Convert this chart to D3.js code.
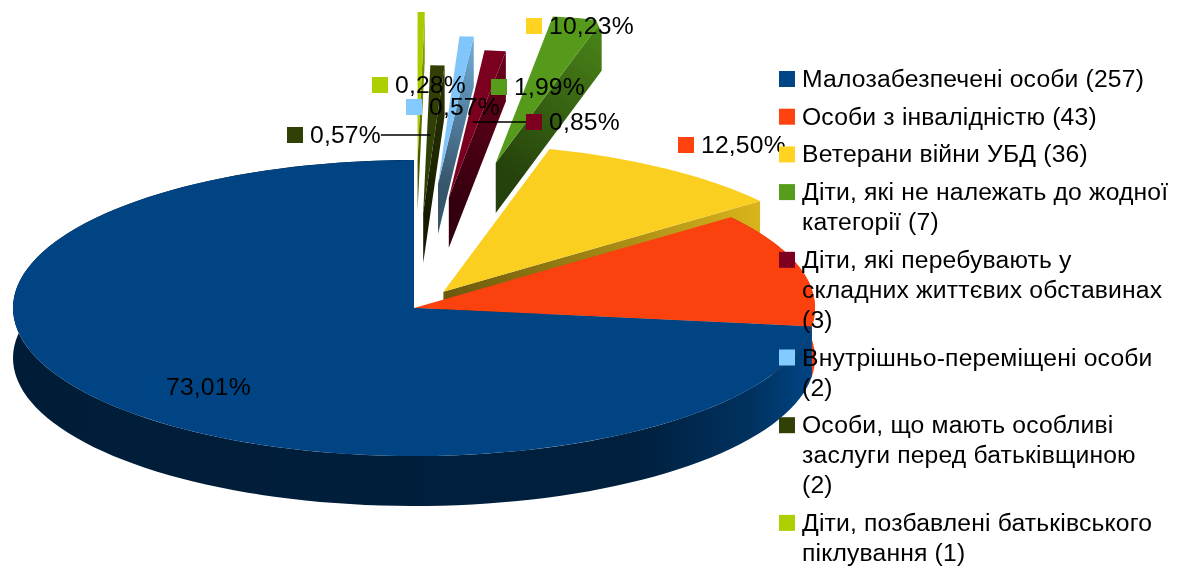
<!DOCTYPE html>
<html>
<head>
<meta charset="utf-8">
<script src="https://cdn.jsdelivr.net/npm/d3@7"></script>
<style>
  html, body { margin: 0; padding: 0; background: #fff; }
  svg { display: block; filter: blur(0.45px); }
  text { font-family: "Liberation Sans", Arial, sans-serif; font-size: 24.7px; letter-spacing: 0.17px; fill: #000; }
</style>
</head>
<body>
<svg id="chart" width="1191" height="567"></svg>
<script>
// chart values
const categories = [
  'Малозабезпечені особи (257)',
  'Особи з інвалідністю (43)',
  'Ветерани війни УБД (36)',
  'Діти, які не належать до жодної\nкатегорії (7)',
  'Діти, які перебувають у\nскладних життєвих обставинах\n(3)',
  'Внутрішньо-переміщені особи\n(2)',
  'Особи, що мають особливі\nзаслуги перед батьківщиною\n(2)',
  'Діти, позбавлені батьківського\nпіклування (1)'
];
const values = [257, 44, 36, 7, 3, 2, 2, 1];
const colors = ['#004586', '#ff420e', '#ffd320', '#579d1c', '#7e0021', '#83caff', '#314004', '#aecf00'];
// how far each slice is pulled out, as a share of the radius
const explode = [0, 0, 0.132, 1, 0.75, 0.84, 0.64, 1];
// data label anchors: swatch left, row centre
const labelX = [143, 678, 526, 491, 526, 406, 287, 372];
const labelY = [387, 145, 26, 87, 122, 107, 135, 85];
const leaderFor = [4, 6];

const cx = 414, cy = 308, rx = 401, ry = 148, depth = 50;
const svg = d3.select('#chart');
const defs = svg.append('defs');

const total = d3.sum(values);
const pct = v => (v / total * 100).toFixed(2).replace('.', ',') + '%';

const pie = d3.pie().sort(null).startAngle(0).endAngle(-2 * Math.PI);
const arc = d3.arc().innerRadius(0).outerRadius(rx);
const slices = pie(values).map((d, i) => {
  const mid = (d.startAngle + d.endAngle) / 2;
  return {
    ...d, i,
    mid,
    ox: cx + Math.sin(mid) * explode[i] * rx,
    oy: cy - Math.cos(mid) * explode[i] * ry
  };
});

const at = (s, a, dy = 0) => [s.ox + Math.sin(a) * rx, s.oy - Math.cos(a) * ry + dy];

function shade(c, k) {
  const r = d3.rgb(c);
  return d3.rgb(r.r * k, r.g * k, r.b * k).formatHex();
}

function gradient(id, x1, y1, x2, y2, stops) {
  const g = defs.append('linearGradient').attr('id', id)
    .attr('gradientUnits', 'userSpaceOnUse')
    .attr('x1', x1).attr('y1', y1).attr('x2', x2).attr('y2', y2);
  stops.forEach(s => g.append('stop').attr('offset', s[0]).attr('stop-color', s[1]));
  return `url(#${id})`;
}

const line = d3.line();
const pieG = svg.append('g');

// back to front, so the big slices end up on top of the pulled out ones
slices.slice().reverse().forEach(s => {
  const c = colors[s.i];
  const g = pieG.append('g');
  const outer = at(s, s.startAngle);

  // the slice that runs furthest to the top right has its outer corner cut off
  if (s.i === 3) {
    defs.append('clipPath').attr('id', 'corner').append('path')
      .attr('d', line([[0, 0], [outer[0] - 14, 0], [outer[0], outer[1] + 13], [outer[0], 567], [0, 567]]) + 'Z');
    g.attr('clip-path', 'url(#corner)');
  }

  // outer rim, only the slices that stay in the pie show it
  if (explode[s.i] === 0) {
    const steps = d3.range(0, 121).map(k => s.startAngle + (s.endAngle - s.startAngle) * k / 120);
    const pts = steps.map(a => at(s, a)).concat(steps.slice().reverse().map(a => at(s, a, depth)));
    g.append('path').attr('d', line(pts) + 'Z')
      .attr('fill', gradient('rim' + s.i, cx - rx, 0, cx + rx, 0, [
        [0, shade(c, 0.42)], [0.78, shade(c, 0.46)], [0.92, shade(c, 0.72)], [1, shade(c, 1)]
      ]));
  }

  // side wall on the clockwise edge
  g.append('path')
    .attr('d', line([[s.ox, s.oy], outer, [outer[0], outer[1] + depth], [s.ox, s.oy + depth]]) + 'Z')
    .attr('fill', gradient('wall' + s.i, s.ox, s.oy, outer[0], outer[1], [
      [0, shade(c, 0.42)], [1, shade(c, 0.86)]
    ]));

  // top face
  g.append('path')
    .attr('d', arc(s))
    .attr('transform', `translate(${s.ox},${s.oy}) scale(1,${ry / rx})`)
    .attr('fill', shade(c, 0.98));
});

// data labels
const labelG = svg.append('g');
slices.forEach(s => {
  const x = labelX[s.i], y = labelY[s.i];
  labelG.append('rect').attr('x', x).attr('y', y - 8).attr('width', 16).attr('height', 16)
    .attr('fill', colors[s.i]);
  const t = labelG.append('text').attr('x', x + 23).attr('y', y + 8).text(pct(values[s.i]));

  if (leaderFor.includes(s.i)) {
    // leader runs to the middle ray of the slice at the label's height
    const tip = at(s, s.mid);
    const rayX = s.ox + (tip[0] - s.ox) * (s.oy - y) / (s.oy - tip[1]);
    const from = x > rayX ? x : x + 23 + t.node().getComputedTextLength();
    labelG.append('line').attr('x1', from).attr('x2', rayX).attr('y1', y).attr('y2', y)
      .attr('stroke', '#000').attr('stroke-width', 1.5);
  }
});

// legend
const lineH = 30, rowGap = 7.7;
const legendG = svg.append('g');
let rowY = 79;
categories.forEach((name, i) => {
  const rows = name.split('\n');
  legendG.append('rect').attr('x', 779).attr('y', rowY - 8).attr('width', 16).attr('height', 16)
    .attr('fill', colors[i]);
  rows.forEach((r, k) => {
    legendG.append('text').attr('x', 802).attr('y', rowY + 8 + k * lineH).text(r);
  });
  rowY += rows.length * lineH + rowGap;
});
</script>
</body>
</html>
